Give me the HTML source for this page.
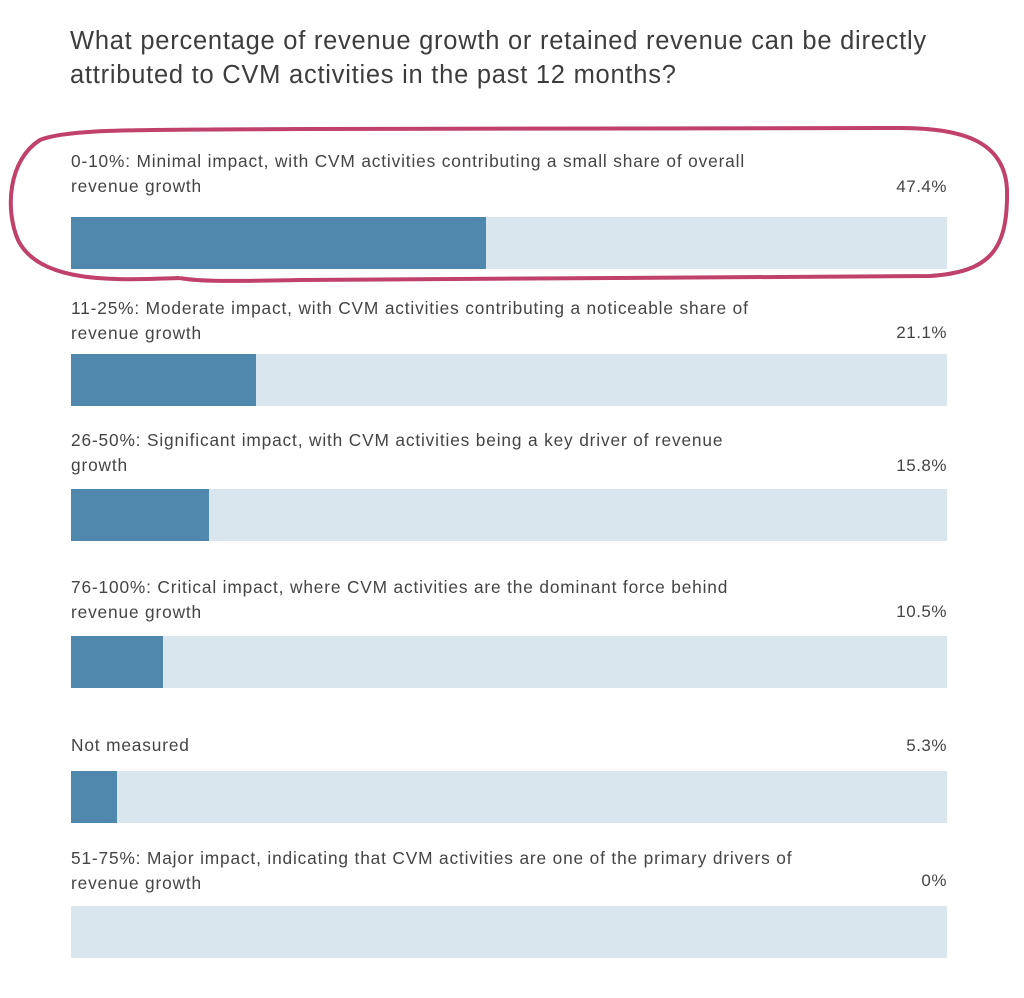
<!DOCTYPE html>
<html><head><style>
body{margin:0;width:1024px;height:998px;background:#fff;position:relative;overflow:hidden;font-family:"Liberation Sans",sans-serif;color:#444}
.t{position:absolute;left:70px;top:24px;font-size:25.5px;line-height:34px;color:#3d3d3d;letter-spacing:0.75px;white-space:nowrap}
.l{position:absolute;left:71px;font-size:17.3px;line-height:25px;width:800px;letter-spacing:0.85px;white-space:nowrap}
.p{position:absolute;right:77px;font-size:17px;line-height:25px;letter-spacing:0.5px}
.b{position:absolute;left:71px;width:876px;height:52px;background:#dae6ee}
.b div{height:100%;background:#5087ad}
</style></head><body>
<div class="t">What percentage of revenue growth or retained revenue can be directly<br>attributed to CVM activities in the past 12 months?</div>
<svg style="position:absolute;left:0;top:0" width="1024" height="998"><path d="M180,278 C120,280 40,285 18,240 C5,210 8,160 40,140 C70,128 150,130 300,129 L900,128 C960,128 1005,140 1007,190 C1008,250 990,272 930,276 L300,280 C240,281 200,282 180,278" fill="none" stroke="#c0416a" stroke-width="4"/></svg>
<div class="l" style="top:149px">0-10%: Minimal impact, with CVM activities contributing a small share of overall<br>revenue growth</div><div class="p" style="top:174px">47.4%</div>
<div class="b" style="top:217px"><div style="width:415px"></div></div>
<div class="l" style="top:296px">11-25%: Moderate impact, with CVM activities contributing a noticeable share of<br>revenue growth</div><div class="p" style="top:320px">21.1%</div>
<div class="b" style="top:354px"><div style="width:185px"></div></div>
<div class="l" style="top:428px">26-50%: Significant impact, with CVM activities being a key driver of revenue<br>growth</div><div class="p" style="top:453px">15.8%</div>
<div class="b" style="top:489px"><div style="width:138px"></div></div>
<div class="l" style="top:575px">76-100%: Critical impact, where CVM activities are the dominant force behind<br>revenue growth</div><div class="p" style="top:599px">10.5%</div>
<div class="b" style="top:636px"><div style="width:92px"></div></div>
<div class="l" style="top:733px">Not measured</div><div class="p" style="top:733px">5.3%</div>
<div class="b" style="top:771px"><div style="width:46px"></div></div>
<div class="l" style="top:846px">51-75%: Major impact, indicating that CVM activities are one of the primary drivers of<br>revenue growth</div><div class="p" style="top:868px">0%</div>
<div class="b" style="top:906px"></div>
</body></html>
